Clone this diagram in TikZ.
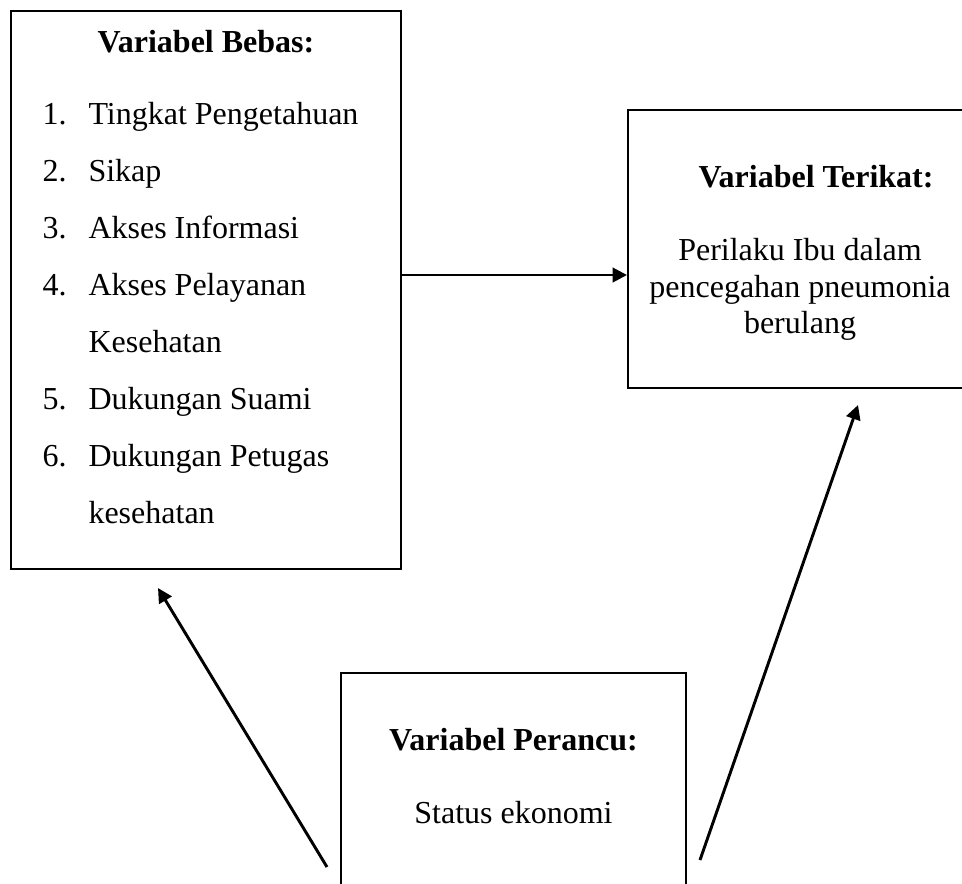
\documentclass[tikz,border=0pt]{standalone}
\usepackage{fontspec}
\setmainfont{Liberation Serif}
\usetikzlibrary{arrows.meta}
\usetikzlibrary{calc}

\tikzset{
	box/.style={rectangle, draw, line width=0.75pt, inner sep=0pt},
	txt/.style={inner sep=0pt, font=\fontsize{12}{14}\selectfont},
}

\begin{document}
\begin{tikzpicture}[%
		>={Triangle[length=5.4pt, width=5.4pt]},
		x=0.375pt, y=-0.375pt
		]
		% (962px, 883px), y grows downwards
		\clip (0,0) rectangle (962,883);
		%%%%%%%%%%%%%%%
		%    BOXES    %
		%%%%%%%%%%%%%%%
		\node[box, minimum width=146.6pt, minimum height=209.4pt] (bebas) at (206, 289.75) {};
		\node[box, minimum width=132pt, minimum height=104.25pt] (terikat) at (804, 249) {};
		\node[box, minimum width=129.4pt, minimum height=85.1pt] (perancu) at (513.5, 786.5) {};
		
		%%%%%%%%%%%%%%%
		%    TEXTS    %
		%%%%%%%%%%%%%%%
		% Bebas
		\node[txt, anchor=base] (bebasT) at (206, 52) {\textbf{Variabel Bebas:}};
		\foreach \num/\lbl [count=\i from 0] in {1./Tingkat Pengetahuan, 2./Sikap, 3./Akses Informasi, 4./Akses Pelayanan, /Kesehatan, 5./Dukungan Suami, 6./Dukungan Petugas, /kesehatan}
		\node[txt, anchor=base west] (item\i) at (42, {124+57*\i}) {\makebox[17.25pt][l]{\num}\lbl};
		
		% Terikat
		\node[txt, anchor=base] (terikatT) at (816, 187) {\textbf{Variabel Terikat:}};
		\node[txt, anchor=base] (ibu1) at (800, 260) {Perilaku Ibu dalam};
		\node[txt, anchor=base] (ibu2) at (800, 297) {pencegahan pneumonia};
		\node[txt, anchor=base] (ibu3) at (800, 333) {berulang};
		
		% Perancu
		\node[txt, anchor=base] (perancuT) at (513.5, 750) {\textbf{Variabel Perancu:}};
		\node[txt, anchor=base] (ekonomi) at (513.5, 823) {Status ekonomi};
		
		%%%%%%%%%%%%%%%
		% CONNECTIONS %
		%%%%%%%%%%%%%%%
		\coordinate (lvl) at (0, 275);
		\coordinate (tailL) at (327, 867);
		\coordinate (tipL) at (158, 588);
		\coordinate (tailR) at (700, 860);
		\coordinate (tipR) at (858, 405);
		
		\path[line width=1.1pt, black, ->]
		(bebas.east |- lvl) edge (terikat.west |- lvl);
		
		\path[line width=1.1pt, black, ->]
		(tailL) edge (tipL);
		
		\path[line width=1.1pt, black, ->]
		(tailR) edge (tipR);
		
	\end{tikzpicture}
\end{document}
